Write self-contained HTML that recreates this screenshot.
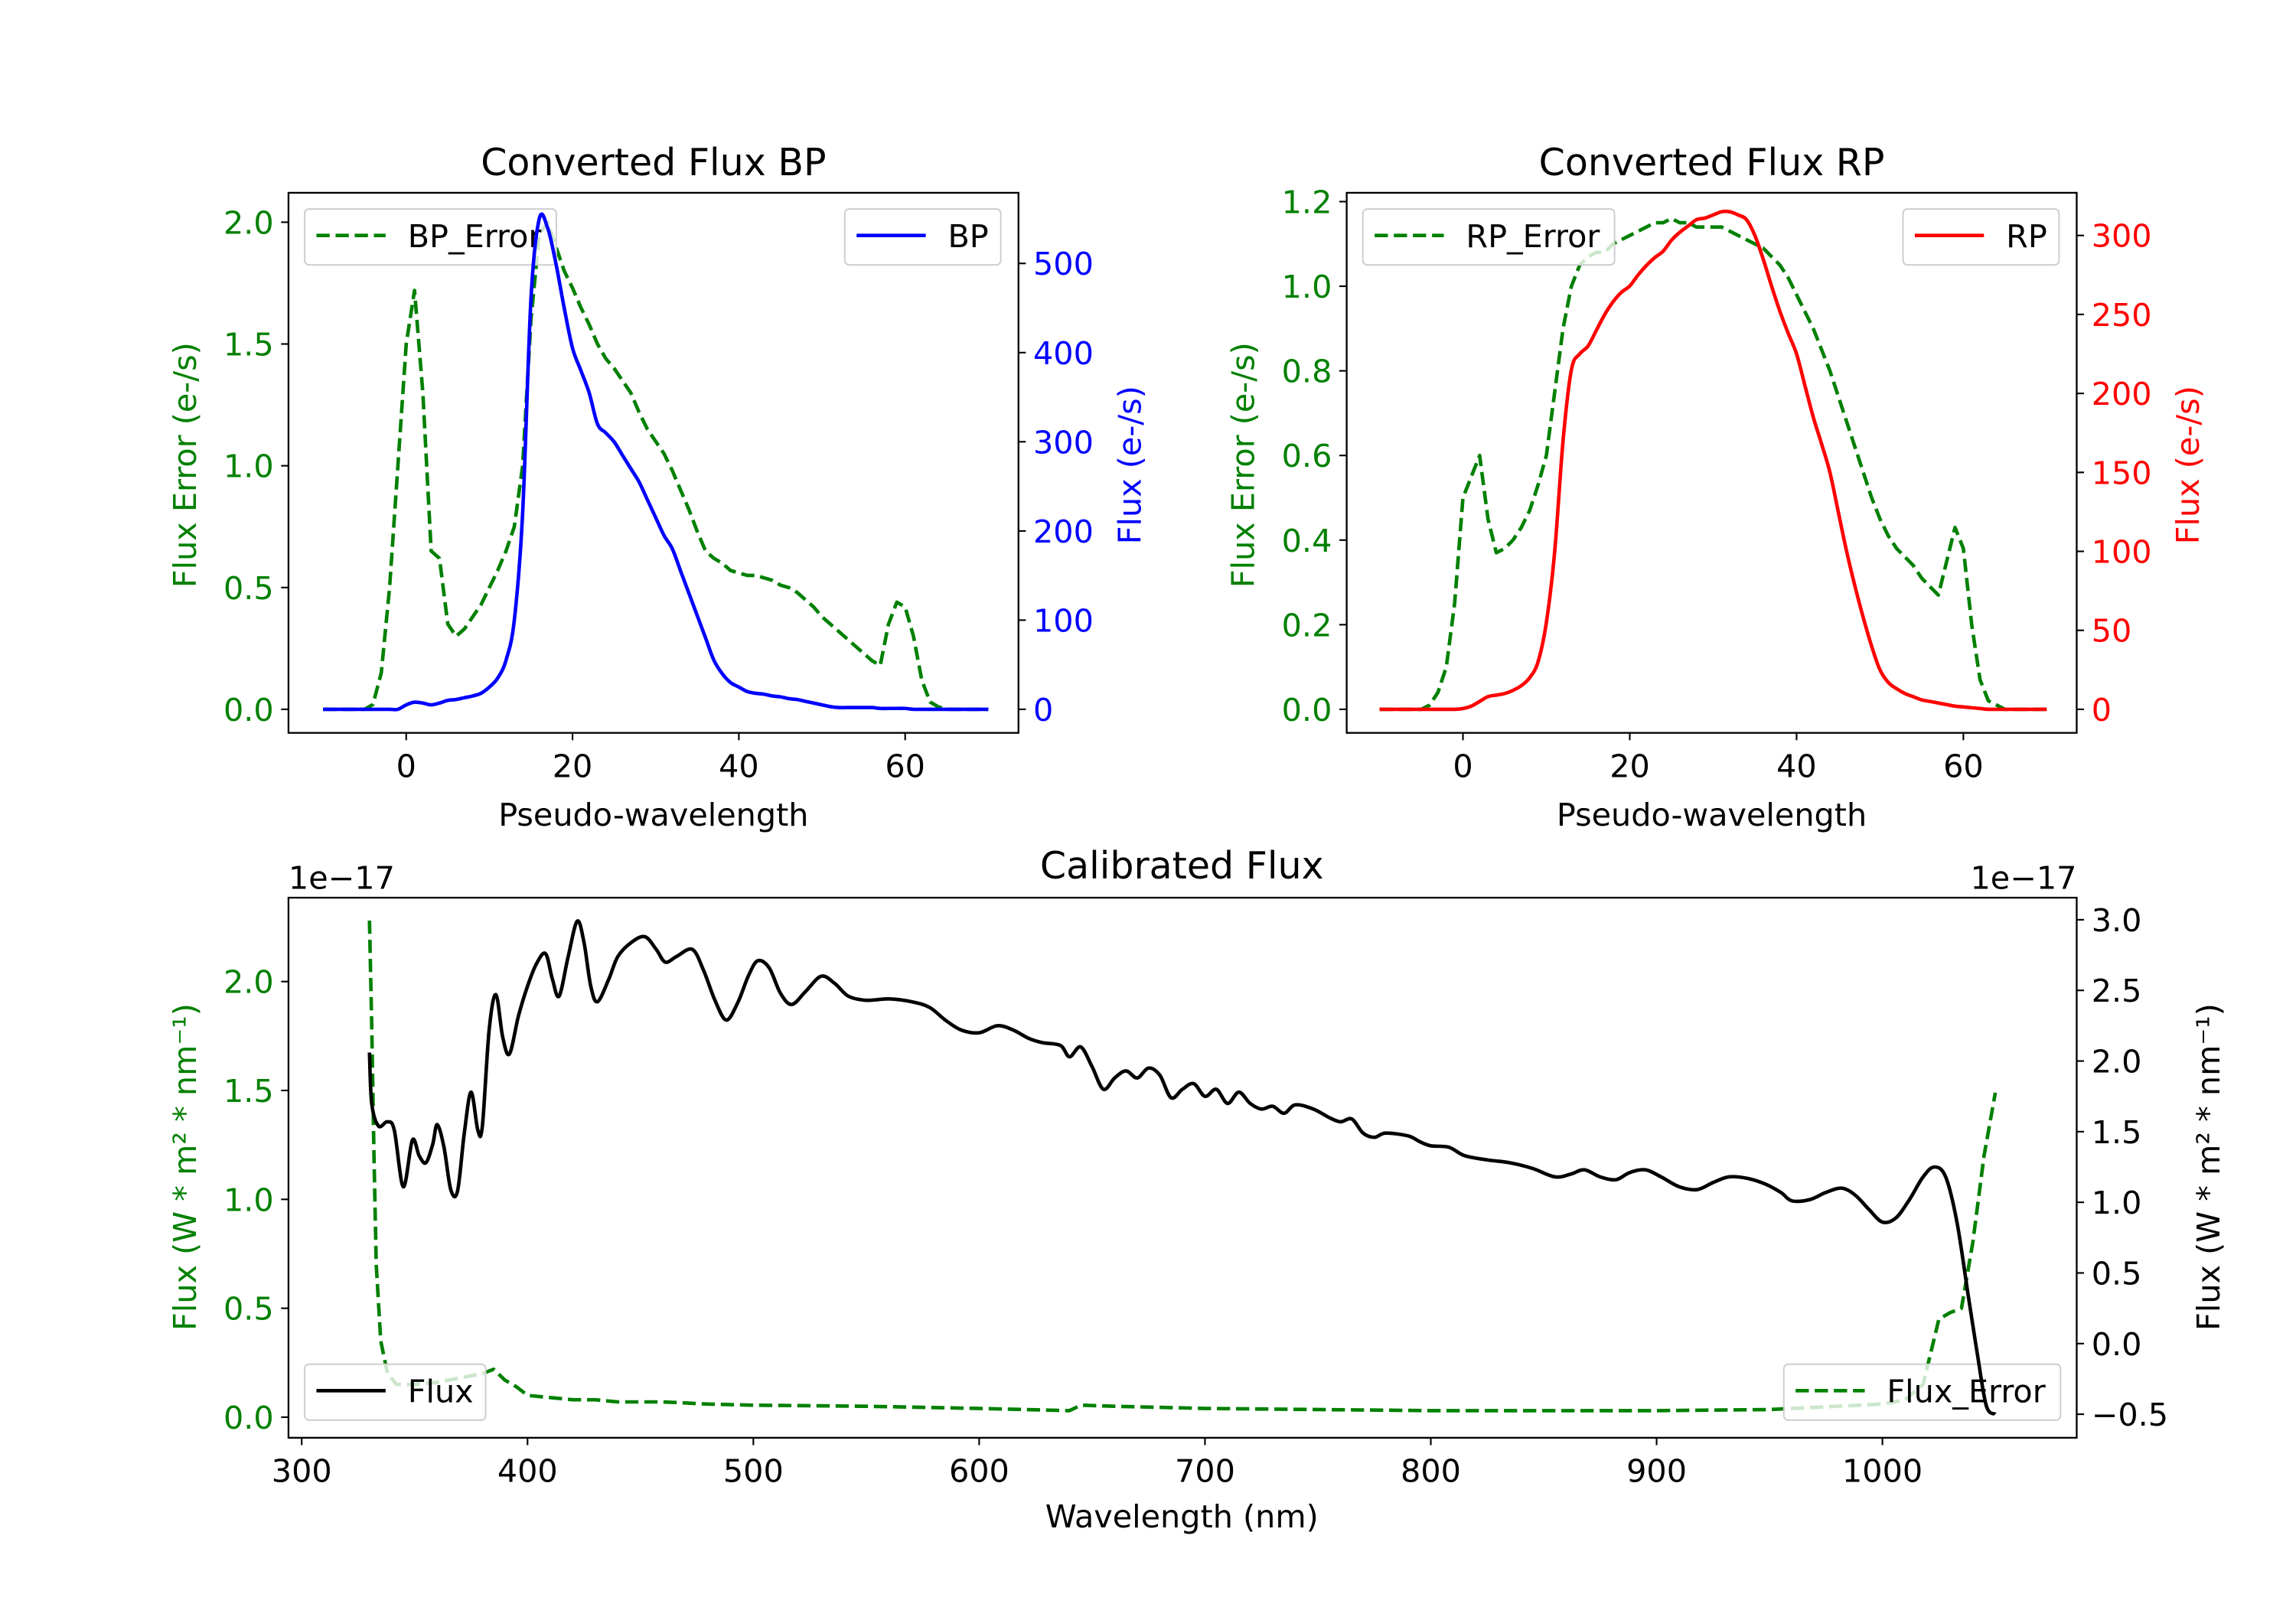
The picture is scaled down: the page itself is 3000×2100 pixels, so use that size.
<!DOCTYPE html>
<html><head><meta charset="utf-8"><style>
html,body{margin:0;padding:0;background:#fff;}
svg{display:block;font-family:"DejaVu Sans","Liberation Sans",sans-serif;}
</style></head><body>
<svg id="fig" width="3000" height="2100" viewBox="0 0 1560 1092" preserveAspectRatio="none" xmlns="http://www.w3.org/2000/svg"></svg>
<script>
// ---------- data ----------
const pseudoX = [];
for (let i = -10; i <= 70; i++) pseudoX.push(i);
const bpFlux = [0,0,0,0,0,0,0,0,0,0,5,8,7,5,7,10,11,13,15,18,25,35,55,100,220,460,550,540,500,450,405,380,355,320,310,300,285,270,255,235,215,195,180,155,130,105,80,55,40,30,25,20,18,17,15,14,12,11,9,7,5,3,2,2,2,2,2,1,1,1,1,0,0,0,0,0,0,0,0,0,0];
const bpError = [0,0,0,0,0,0,0.02,0.15,0.5,1.0,1.5,1.72,1.3,0.65,0.62,0.35,0.3,0.33,0.38,0.43,0.5,0.57,0.65,0.75,1.0,1.6,1.95,2.0,1.9,1.8,1.73,1.65,1.58,1.5,1.44,1.4,1.35,1.3,1.22,1.15,1.1,1.05,0.98,0.9,0.82,0.73,0.65,0.62,0.6,0.57,0.56,0.55,0.55,0.54,0.53,0.51,0.5,0.48,0.45,0.42,0.38,0.35,0.32,0.29,0.26,0.23,0.2,0.18,0.35,0.44,0.42,0.3,0.12,0.03,0.01,0,0,0,0,0,0];
const rpFlux = [0,0,0,0,0,0,0,0,0,0,0.5,2,5,8,9,10,12,15,20,30,55,100,170,215,225,230,240,250,258,264,268,275,281,286,290,297,302,306,310,311,313,315,315,313,310,300,285,268,252,238,225,205,185,168,150,125,100,78,58,40,25,17,13,10,8,6,5,4,3,2,1.5,1,0.5,0,0,0,0,0,0,0,0];
const rpError = [0,0,0,0,0,0,0.01,0.04,0.1,0.25,0.5,0.55,0.6,0.45,0.37,0.38,0.4,0.43,0.47,0.53,0.6,0.75,0.9,1.0,1.05,1.07,1.08,1.08,1.1,1.11,1.12,1.13,1.14,1.15,1.15,1.16,1.15,1.15,1.14,1.14,1.14,1.14,1.13,1.12,1.11,1.1,1.09,1.07,1.05,1.02,0.98,0.94,0.9,0.85,0.8,0.74,0.68,0.62,0.56,0.5,0.45,0.41,0.38,0.36,0.34,0.31,0.29,0.27,0.35,0.43,0.38,0.2,0.07,0.02,0.01,0,0,0,0,0,0];
const fluxWl = [330,331,334,338,341,345,349,352,355,358,360,363,366,369,372,375,378,380,383,386,389,392,396,400,404,408,411,414,418,422,425,428,431,436,440,446,452,457,461,466,473,478,483,488,493,498,502,507,512,517,523,530,536,542,550,560,570,578,585,592,600,608,615,622,628,636,640,645,650,655,660,665,670,675,680,685,690,695,700,705,710,715,720,725,730,735,740,748,755,760,765,770,775,780,790,795,800,808,815,825,835,845,855,862,868,875,882,888,895,902,910,918,925,932,940,948,955,960,968,975,982,988,994,1000,1006,1012,1018,1023,1028,1033,1038,1042,1046,1050];
const fluxVal = [2.06,1.70,1.54,1.57,1.51,1.11,1.44,1.33,1.28,1.41,1.55,1.39,1.09,1.08,1.49,1.78,1.51,1.54,2.22,2.47,2.17,2.05,2.32,2.53,2.69,2.76,2.58,2.46,2.74,2.99,2.84,2.53,2.42,2.58,2.74,2.84,2.88,2.79,2.70,2.74,2.79,2.64,2.43,2.29,2.41,2.61,2.71,2.66,2.48,2.40,2.49,2.60,2.55,2.46,2.43,2.44,2.42,2.38,2.29,2.22,2.20,2.25,2.22,2.16,2.13,2.11,2.03,2.10,1.96,1.80,1.88,1.93,1.88,1.95,1.90,1.74,1.80,1.84,1.75,1.80,1.70,1.78,1.70,1.66,1.68,1.63,1.69,1.66,1.60,1.57,1.59,1.49,1.46,1.49,1.47,1.43,1.40,1.39,1.33,1.30,1.28,1.24,1.18,1.20,1.23,1.18,1.16,1.21,1.23,1.18,1.11,1.09,1.14,1.18,1.17,1.13,1.07,1.01,1.02,1.07,1.10,1.05,0.95,0.86,0.89,1.02,1.18,1.25,1.18,0.86,0.34,-0.07,-0.44,-0.50];
const errWl = [330,331,332,333,335,338,342,350,360,370,380,385,390,395,400,410,420,430,440,460,480,500,550,600,640,645,660,700,750,800,850,900,950,980,1000,1010,1018,1025,1030,1035,1040,1045,1050];
const errVal = [2.28,1.8,1.2,0.7,0.35,0.2,0.15,0.15,0.16,0.18,0.2,0.22,0.17,0.14,0.1,0.09,0.08,0.08,0.07,0.07,0.06,0.055,0.05,0.04,0.03,0.055,0.05,0.04,0.035,0.03,0.03,0.03,0.035,0.05,0.06,0.08,0.15,0.45,0.48,0.5,0.8,1.2,1.49];
const bpLeftTicks = [0,0.5,1.0,1.5,2.0];
const bpRightTicks = [0,100,200,300,400,500];
const rpLeftTicks = [0,0.2,0.4,0.6,0.8,1.0,1.2];
const rpRightTicks = [0,50,100,150,200,250,300];
const pseudoTicks = [0,20,40,60];
const wlTicks = [300,400,500,600,700,800,900,1000];
const calLeftTicks = [0,0.5,1.0,1.5,2.0];
const calRightTicks = [-0.5,0,0.5,1.0,1.5,2.0,2.5,3.0];

// ---------- helpers ----------
const NS = "http://www.w3.org/2000/svg";
const svg = document.getElementById("fig");
function mk(tag, attrs, parent) {
  const e = document.createElementNS(NS, tag);
  for (const k in attrs) e.setAttribute(k, attrs[k]);
  (parent || svg).appendChild(e);
  return e;
}
function lin(d0, d1, r0, r1) { return v => r0 + (v - d0) * (r1 - r0) / (d1 - d0); }
function smoothPath(xs, ys, sx, sy) {
  const p = xs.map((x, i) => [sx(x), sy(ys[i])]);
  let d = "M" + p[0][0].toFixed(2) + "," + p[0][1].toFixed(2);
  for (let i = 0; i < p.length - 1; i++) {
    const p0 = p[Math.max(0, i - 1)], p1 = p[i], p2 = p[i + 1], p3 = p[Math.min(p.length - 1, i + 2)];
    const c1x = p1[0] + (p2[0] - p0[0]) / 6, c1y = p1[1] + (p2[1] - p0[1]) / 6;
    const c2x = p2[0] - (p3[0] - p1[0]) / 6, c2y = p2[1] - (p3[1] - p1[1]) / 6;
    d += "C" + c1x.toFixed(2) + "," + c1y.toFixed(2) + " " + c2x.toFixed(2) + "," + c2y.toFixed(2) + " " + p2[0].toFixed(2) + "," + p2[1].toFixed(2);
  }
  return d;
}
function linePath(xs, ys, sx, sy) {
  return xs.map((x, i) => (i ? "L" : "M") + sx(x).toFixed(2) + "," + sy(ys[i]).toFixed(2)).join("");
}
function fmt(v, dec) { return v < 0 ? "\u2212" + (-v).toFixed(dec) : v.toFixed(dec); }
const FS = 21.5;
const TS = 25.5;
function text(str, x, y, anchor, color, size, rot, name) {
  const t = mk("text", {x: x, y: y, "text-anchor": anchor, fill: color, "font-size": size});
  if (rot) t.setAttribute("transform", "rotate(-90 " + x + " " + y + ")");
  t.textContent = str;
  
  
  return t;
}
function box(x0, y0, x1, y1, name) {
  const r = mk("rect", {x: x0, y: y0, width: x1 - x0, height: y1 - y0, fill: "none", stroke: "#000", "stroke-width": 1.2});
  
  
}
function xTicks(ticks, sx, yb, labels, name) {
  ticks.forEach((t, i) => {
    const l = mk("line", {x1: sx(t), x2: sx(t), y1: yb, y2: yb + 5, stroke: "#000", "stroke-width": 1.1});
    
    
    text(labels[i], sx(t), yb + 30, "middle", "#000", FS, false, name + '-tick-label');
  });
}
function yTicks(ticks, sy, xe, side, color, dec, name) {
  ticks.forEach(t => {
    const x2 = side === "left" ? xe - 5 : xe + 5;
    const l = mk("line", {x1: xe, x2: x2, y1: sy(t), y2: sy(t), stroke: "#000", "stroke-width": 1.1});
    
    
    const lx = side === "left" ? xe - 10 : xe + 10;
    text(fmt(t, dec), lx, sy(t) + 7.8, side === "left" ? "end" : "start", color, FS, false, name + '-tick-label');
  });
}
function legend(x0, y0, w, label, color, dashed, name) {
  const g = mk("g", {});
  
  
  mk("rect", {x: x0, y: y0, width: w, height: 38, rx: 3, fill: "rgba(255,255,255,0.8)", stroke: "#cccccc", "stroke-width": 1}, g);
  const l = mk("line", {x1: x0 + 8, x2: x0 + 55, y1: y0 + 18, y2: y0 + 18, stroke: color, "stroke-width": 2.4}, g);
  if (dashed) l.setAttribute("stroke-dasharray", "9,4");
  const t = mk("text", {x: x0 + 70, y: y0 + 26, fill: "#000", "font-size": FS}, g);
  t.textContent = label;
}
function series(d, color, dashed, name) {
  const p = mk("path", {d: d, fill: "none", stroke: color, "stroke-width": 2.4, "stroke-linejoin": "round"});
  if (dashed) p.setAttribute("stroke-dasharray", "9,4");
  
  
}
const GREEN = "#008000";

// ---------- BP panel ----------
{
  const sx = lin(0, 60, 276, 615);
  const syL = lin(0, 2.0, 482, 151);
  const syR = lin(0, 500, 482, 179);
  series(linePath(pseudoX, bpError, sx, syL), GREEN, true, "bp-error-line");
  legend(207, 142, 171, "BP_Error", GREEN, true, "bp-error-legend");
  series(smoothPath(pseudoX, bpFlux, sx, syR), "#0000ff", false, "bp-flux-line");
  legend(574, 142, 106, "BP", "#0000ff", false, "bp-legend");
  box(196, 131, 692, 498, "bp-axes-frame");
  xTicks(pseudoTicks, sx, 498, pseudoTicks.map(String), "bp-x");
  yTicks(bpLeftTicks, syL, 196, "left", GREEN, 1, "bp-left-y");
  yTicks(bpRightTicks, syR, 692, "right", "#0000ff", 0, "bp-right-y");
  text("Converted Flux BP", 444, 119, "middle", "#000", TS, false, "bp-title");
  text("Pseudo-wavelength", 444, 561, "middle", "#000", FS, false, "bp-x-axis-title");
  text("Flux Error (e-/s)", 133, 316, "middle", GREEN, FS, true, "bp-left-y-axis-title");
  text("Flux (e-/s)", 775, 316, "middle", "#0000ff", FS, true, "bp-right-y-axis-title");
}
// ---------- RP panel ----------
{
  const sx = lin(0, 60, 994, 1334);
  const syL = lin(0, 1.2, 482, 137);
  const syR = lin(0, 300, 482, 160);
  series(linePath(pseudoX, rpError, sx, syL), GREEN, true, "rp-error-line");
  legend(926, 142, 171, "RP_Error", GREEN, true, "rp-error-legend");
  series(smoothPath(pseudoX, rpFlux, sx, syR), "#ff0000", false, "rp-flux-line");
  legend(1293, 142, 106, "RP", "#ff0000", false, "rp-legend");
  box(915, 131, 1411, 498, "rp-axes-frame");
  xTicks(pseudoTicks, sx, 498, pseudoTicks.map(String), "rp-x");
  yTicks(rpLeftTicks, syL, 915, "left", GREEN, 1, "rp-left-y");
  yTicks(rpRightTicks, syR, 1411, "right", "#ff0000", 0, "rp-right-y");
  text("Converted Flux RP", 1163, 119, "middle", "#000", TS, false, "rp-title");
  text("Pseudo-wavelength", 1163, 561, "middle", "#000", FS, false, "rp-x-axis-title");
  text("Flux Error (e-/s)", 852, 316, "middle", GREEN, FS, true, "rp-left-y-axis-title");
  text("Flux (e-/s)", 1494, 316, "middle", "#ff0000", FS, true, "rp-right-y-axis-title");
}
// ---------- Calibrated panel ----------
{
  const sx = lin(300, 1000, 205, 1279);
  const syL = lin(0, 2.0, 963, 667);
  const syR = lin(-0.5, 3.0, 961, 625);
  series(linePath(errWl, errVal, sx, syL), GREEN, true, "flux-error-line");
  legend(1212, 927, 188, "Flux_Error", GREEN, true, "flux-error-legend");
  series(smoothPath(fluxWl, fluxVal, sx, syR), "#000000", false, "flux-line");
  legend(207, 927, 123, "Flux", "#000000", false, "flux-legend");
  box(196, 610, 1411, 977, "calibrated-axes-frame");
  xTicks(wlTicks, sx, 977, wlTicks.map(String), "calibrated-x");
  yTicks(calLeftTicks, syL, 196, "left", GREEN, 1, "calibrated-left-y");
  yTicks(calRightTicks, syR, 1411, "right", "#000", 1, "calibrated-right-y");
  text("Calibrated Flux", 803, 597, "middle", "#000", TS, false, "calibrated-title");
  text("1e\u221217", 196, 604, "start", "#000", FS, false, "left-offset-label");
  text("1e\u221217", 1411, 604, "end", "#000", FS, false, "right-offset-label");
  text("Wavelength (nm)", 803, 1038, "middle", "#000", FS, false, "calibrated-x-axis-title");
  text("Flux (W * m\u00b2 * nm\u207b\u00b9)", 133, 793, "middle", GREEN, FS, true, "calibrated-left-y-axis-title");
  text("Flux (W * m\u00b2 * nm\u207b\u00b9)", 1508, 793, "middle", "#000", FS, true, "calibrated-right-y-axis-title");
}
</script>
</body></html>
